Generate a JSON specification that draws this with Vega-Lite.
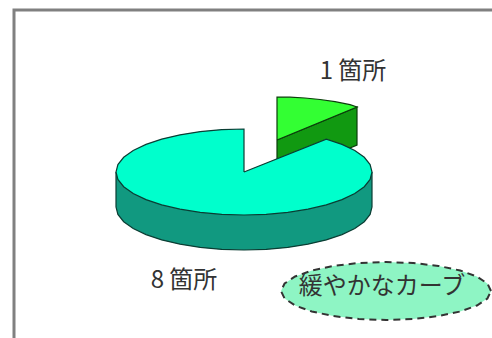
{
  "$schema": "https://vega.github.io/schema/vega-lite/v6.json",
  "width": 492,
  "height": 338,
  "autosize": "none",
  "padding": 0,
  "background": "white",
  "view": {"stroke": null},
  "datasets": {
    "frame": [
      {"n": 0, "x": 14, "y": 338},
      {"n": 1, "x": 14, "y": 10},
      {"n": 2, "x": 492, "y": 10}
    ],
    "smallTop": [
      {"n": 0, "x": 277, "y": 140},
      {"n": 1, "x": 277, "y": 97},
      {"n": 2, "x": 290, "y": 97.2},
      {"n": 3, "x": 305, "y": 98},
      {"n": 4, "x": 320, "y": 99.5},
      {"n": 5, "x": 335, "y": 101.7},
      {"n": 6, "x": 350, "y": 104.7},
      {"n": 7, "x": 357, "y": 107},
      {"n": 8, "x": 277, "y": 140}
    ],
    "smallSide": [
      {"n": 0, "x": 277, "y": 140},
      {"n": 1, "x": 357, "y": 107},
      {"n": 2, "x": 357, "y": 145},
      {"n": 3, "x": 277, "y": 178},
      {"n": 4, "x": 277, "y": 140}
    ],
    "bigSide": [
      {"n": 0, "x": 116, "y": 172},
      {"n": 1, "x": 116, "y": 207},
      {"n": 2, "x": 117.9, "y": 214.5},
      {"n": 3, "x": 123.7, "y": 221.7},
      {"n": 4, "x": 133.2, "y": 228.5},
      {"n": 5, "x": 146, "y": 234.6},
      {"n": 6, "x": 161.7, "y": 239.9},
      {"n": 7, "x": 180, "y": 244.2},
      {"n": 8, "x": 200.2, "y": 247.4},
      {"n": 9, "x": 221.8, "y": 249.4},
      {"n": 10, "x": 244, "y": 250},
      {"n": 11, "x": 266.2, "y": 249.4},
      {"n": 12, "x": 287.8, "y": 247.4},
      {"n": 13, "x": 308, "y": 244.2},
      {"n": 14, "x": 326.3, "y": 239.9},
      {"n": 15, "x": 342, "y": 234.6},
      {"n": 16, "x": 354.8, "y": 228.5},
      {"n": 17, "x": 364.3, "y": 221.7},
      {"n": 18, "x": 370.1, "y": 214.5},
      {"n": 19, "x": 372, "y": 207},
      {"n": 20, "x": 372, "y": 172}
    ],
    "bigTop": [
      {"n": 0, "x": 244, "y": 172},
      {"n": 1, "x": 244, "y": 129},
      {"n": 2, "x": 221.8, "y": 129.6},
      {"n": 3, "x": 200.2, "y": 131.6},
      {"n": 4, "x": 180, "y": 134.8},
      {"n": 5, "x": 161.7, "y": 139.1},
      {"n": 6, "x": 146, "y": 144.4},
      {"n": 7, "x": 133.2, "y": 150.5},
      {"n": 8, "x": 123.7, "y": 157.3},
      {"n": 9, "x": 117.9, "y": 164.5},
      {"n": 10, "x": 116, "y": 172},
      {"n": 11, "x": 117.9, "y": 179.5},
      {"n": 12, "x": 123.7, "y": 186.7},
      {"n": 13, "x": 133.2, "y": 193.5},
      {"n": 14, "x": 146, "y": 199.6},
      {"n": 15, "x": 161.7, "y": 204.9},
      {"n": 16, "x": 180, "y": 209.2},
      {"n": 17, "x": 200.2, "y": 212.4},
      {"n": 18, "x": 221.8, "y": 214.4},
      {"n": 19, "x": 244, "y": 215},
      {"n": 20, "x": 266.2, "y": 214.4},
      {"n": 21, "x": 287.8, "y": 212.4},
      {"n": 22, "x": 308, "y": 209.2},
      {"n": 23, "x": 326.3, "y": 204.9},
      {"n": 24, "x": 342, "y": 199.6},
      {"n": 25, "x": 354.8, "y": 193.5},
      {"n": 26, "x": 364.3, "y": 186.7},
      {"n": 27, "x": 370.1, "y": 179.5},
      {"n": 28, "x": 372, "y": 172},
      {"n": 29, "x": 370.1, "y": 164.5},
      {"n": 30, "x": 364.3, "y": 157.3},
      {"n": 31, "x": 354.8, "y": 150.5},
      {"n": 32, "x": 342, "y": 144.4},
      {"n": 33, "x": 326.3, "y": 139.1},
      {"n": 34, "x": 244, "y": 172}
    ],
    "callout": [
      {"n": 0, "x": 491, "y": 291},
      {"n": 1, "x": 487.4, "y": 283.5},
      {"n": 2, "x": 476.9, "y": 276.5},
      {"n": 3, "x": 460.2, "y": 270.5},
      {"n": 4, "x": 438.5, "y": 265.9},
      {"n": 5, "x": 413.2, "y": 263},
      {"n": 6, "x": 386, "y": 262},
      {"n": 7, "x": 358.8, "y": 263},
      {"n": 8, "x": 333.5, "y": 265.9},
      {"n": 9, "x": 311.8, "y": 270.5},
      {"n": 10, "x": 295.1, "y": 276.5},
      {"n": 11, "x": 284.6, "y": 283.5},
      {"n": 12, "x": 281, "y": 291},
      {"n": 13, "x": 284.6, "y": 298.5},
      {"n": 14, "x": 295.1, "y": 305.5},
      {"n": 15, "x": 311.8, "y": 311.5},
      {"n": 16, "x": 333.5, "y": 316.1},
      {"n": 17, "x": 358.8, "y": 319},
      {"n": 18, "x": 386, "y": 320},
      {"n": 19, "x": 413.2, "y": 319},
      {"n": 20, "x": 438.5, "y": 316.1},
      {"n": 21, "x": 460.2, "y": 311.5},
      {"n": 22, "x": 476.9, "y": 305.5},
      {"n": 23, "x": 487.4, "y": 298.5},
      {"n": 24, "x": 491, "y": 291}
    ],
    "labels": [
      {"x": 353, "y": 72, "label": "1 箇所"},
      {"x": 184, "y": 281, "label": "8 箇所"},
      {"x": 382, "y": 287, "label": "緩やかなカーブ"}
    ]
  },
  "encoding": {
    "x": {"field": "x", "type": "quantitative", "scale": {"domain": [0, 492], "nice": false, "zero": false}, "axis": null},
    "y": {"field": "y", "type": "quantitative", "scale": {"domain": [338, 0], "nice": false, "zero": false}, "axis": null},
    "order": {"field": "n", "type": "quantitative"}
  },
  "layer": [
    {
      "data": {"name": "frame"},
      "mark": {"type": "line", "stroke": "#808080", "strokeWidth": 3}
    },
    {
      "data": {"name": "smallSide"},
      "mark": {"type": "line", "fill": "#119911", "stroke": "#0b3d0b", "strokeWidth": 1.2}
    },
    {
      "data": {"name": "smallTop"},
      "mark": {"type": "line", "fill": "#33ff33", "stroke": "#0b3d0b", "strokeWidth": 1.2}
    },
    {
      "data": {"name": "bigSide"},
      "mark": {"type": "line", "fill": "#119980", "stroke": "#0a3d33", "strokeWidth": 1.2}
    },
    {
      "data": {"name": "bigTop"},
      "mark": {"type": "line", "fill": "#00ffcc", "stroke": "#0a3d33", "strokeWidth": 1.2}
    },
    {
      "data": {"name": "callout"},
      "mark": {"type": "line", "fill": "#8ef5c4", "stroke": "#333333", "strokeWidth": 2, "strokeDash": [7, 5]}
    },
    {
      "data": {"name": "labels"},
      "mark": {"type": "text", "font": "Noto Sans CJK JP", "fontSize": 24, "color": "#333333", "align": "center", "baseline": "middle"},
      "encoding": {
        "text": {"field": "label", "type": "nominal"},
        "order": {"value": null}
      }
    }
  ]
}
